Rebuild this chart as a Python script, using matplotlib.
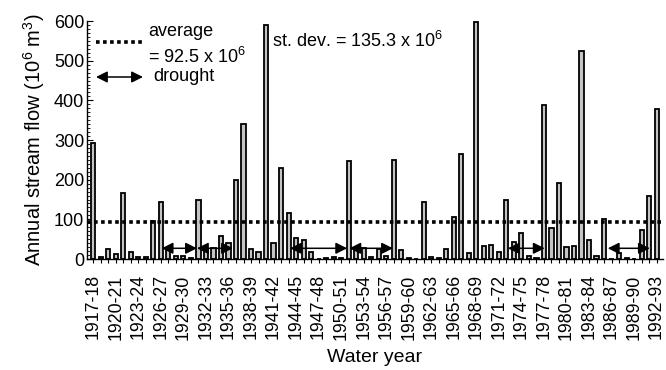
import matplotlib
matplotlib.use('Agg')
import matplotlib.pyplot as plt
from matplotlib.ticker import MultipleLocator

# ---------------------------------------------------------
# Data
# ---------------------------------------------------------
start_years = list(range(1917, 1993))
water_years = [f'{y}-{str(y + 1)[-2:]}' for y in start_years]

flow = [292, 6, 25, 13, 167, 18, 5, 6, 95, 144,
        25, 8, 7, 3, 149, 25, 28, 58, 41, 199,
        340, 26, 18, 590, 41, 229, 115, 52, 49, 18,
        1, 3, 5, 2, 247, 22, 28, 6, 25, 8,
        250, 23, 3, 1, 143, 6, 3, 25, 107, 265,
        15, 598, 32, 35, 18, 149, 44, 65, 8, 2,
        388, 77, 192, 31, 33, 525, 48, 7, 102, 1,
        14, 3, 1, 73, 159, 378]

avg_flow = 92.5
std_flow = 135.3

# drought periods (bar index from / to) and the level the arrows sit at
drought_from = [9.1, 13.8, 26.2, 34.1, 55.2, 68.5]
drought_to = [13.8, 18.6, 33.8, 39.9, 60.1, 74.1]
drought_level = 27

plt.rcParams['font.family'] = ['Liberation Sans', 'DejaVu Sans']
plt.rcParams['mathtext.default'] = 'regular'

fig = plt.figure(figsize=(6.66, 3.70), dpi=100)
ax = fig.add_axes([0.1306, 0.30, 0.865, 0.643])

x = list(range(len(flow)))
ax.bar(x, flow, width=0.55, color='#c4c4c4', edgecolor='black', linewidth=1.3, zorder=2)

# average line
ax.axhline(avg_flow, color='black', linestyle=(0, (1, 0.95)), linewidth=2.6, zorder=3)

# drought arrows
arrow_kw = dict(arrowstyle='<|-|>', mutation_scale=17, lw=1.1,
                color='black', shrinkA=0, shrinkB=0)
for a, b in zip(drought_from, drought_to):
    ax.annotate('', xy=(b, drought_level), xytext=(a, drought_level),
                arrowprops=arrow_kw, zorder=4)

ax.set_xlim(-0.84, 75.86)
ax.set_ylim(0, 600)

for s in ['top', 'right']:
    ax.spines[s].set_visible(False)
ax.spines['left'].set_linewidth(1.0)
ax.spines['bottom'].set_linewidth(1.0)

ax.set_xticks(x)
ax.set_xticklabels([wy if i % 3 == 0 else '' for i, wy in enumerate(water_years)],
                   rotation=90, fontsize=12.8)
ax.tick_params(axis='x', direction='out', length=3, width=0.8, pad=8)

ax.yaxis.set_major_locator(MultipleLocator(100))
ax.yaxis.set_minor_locator(MultipleLocator(10))
ax.tick_params(axis='y', which='major', direction='in', length=4, width=0.8, labelsize=13, pad=2)
ax.tick_params(axis='y', which='minor', direction='in', length=2, width=0.6)

ax.set_ylabel('Annual stream flow (10$^6$ m$^3$)', fontsize=14.5, labelpad=5)
ax.set_xlabel('Water year', fontsize=14, labelpad=7)

# legend-like annotations
ax.plot([0.0156, 0.0972], [0.912, 0.912], transform=ax.transAxes, color='black',
        linestyle=(0, (1, 0.95)), linewidth=2.6, clip_on=False)
ax.text(0.106, 0.958, 'average', transform=ax.transAxes, fontsize=13, va='center', ha='left')
ax.text(0.106, 0.849, '= 92.5 x 10$^6$', transform=ax.transAxes, fontsize=13, va='center', ha='left')
ax.annotate('', xy=(0.0972, 0.765), xytext=(0.0156, 0.765), xycoords='axes fraction',
            arrowprops=arrow_kw)
ax.text(0.1146, 0.765, 'drought', transform=ax.transAxes, fontsize=13, va='center', ha='left')
ax.text(0.321, 0.916, f'st. dev. = {std_flow} x 10$^6$', transform=ax.transAxes,
        fontsize=13, va='center', ha='left')

fig.savefig('out.png', dpi=100)
